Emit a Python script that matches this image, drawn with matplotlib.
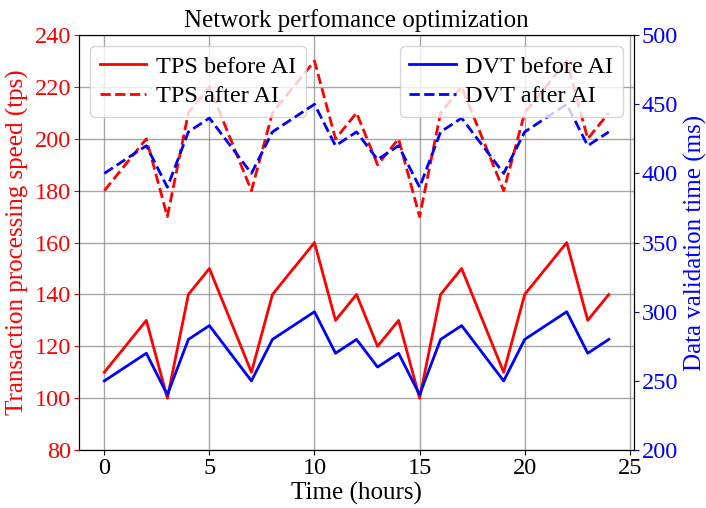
import matplotlib.pyplot as plt

plt.rcParams['font.family'] = ['Liberation Serif', 'DejaVu Serif']

hours = [0, 2, 3, 4, 5, 7, 8, 10, 11, 12, 13, 14, 15, 16, 17, 19, 20, 22, 23, 24]
tps_before = [110, 130, 100, 140, 150, 110, 140, 160, 130, 140, 120, 130, 100, 140, 150, 110, 140, 160, 130, 140]
tps_after = [180, 200, 170, 210, 220, 180, 210, 230, 200, 210, 190, 200, 170, 210, 220, 180, 210, 230, 200, 210]
dvt_before = [250, 270, 240, 280, 290, 250, 280, 300, 270, 280, 260, 270, 240, 280, 290, 250, 280, 300, 270, 280]
dvt_after = [400, 420, 390, 430, 440, 400, 430, 450, 420, 430, 410, 420, 390, 430, 440, 400, 430, 450, 420, 430]

fig, ax1 = plt.subplots(figsize=(7.06, 5.08), dpi=100)
fig.subplots_adjust(left=0.112, right=0.898, bottom=0.114, top=0.931)

# left axis: transaction speed
ax1.plot(hours, tps_before, color='red', lw=2, label='TPS before AI')
ax1.plot(hours, tps_after, color='red', lw=2, ls='--', label='TPS after AI')
ax1.set_ylim(80, 240)
ax1.set_xlim(-1.2, 25.2)
ax1.set_xticks([0, 5, 10, 15, 20, 25])
ax1.set_xlabel('Time (hours)', fontsize=18, labelpad=2)
ax1.set_ylabel('Transaction processing speed (tps)', color='red', fontsize=18, labelpad=4)
ax1.tick_params(axis='y', colors='red', labelsize=17.5, pad=2)
ax1.tick_params(axis='x', labelsize=17.5, pad=2)
ax1.grid(True, color='gray', lw=1, alpha=0.7)
ax1.legend(loc='upper left', fontsize=17.5, handlelength=1.9, handletextpad=0.4,
           labelspacing=0.3, borderaxespad=0.45)

# right axis: validation time
ax2 = ax1.twinx()
ax2.plot(hours, dvt_before, color='blue', lw=2, label='DVT before AI')
ax2.plot(hours, dvt_after, color='blue', lw=2, ls='--', label='DVT after AI')
ax2.set_ylim(200, 500)
ax2.set_ylabel('Data validation time (ms)', color='blue', fontsize=18, labelpad=4)
ax2.tick_params(axis='y', colors='blue', labelsize=17.5, pad=2)
ax2.legend(loc='upper right', fontsize=17.5, handlelength=1.9, handletextpad=0.4,
           labelspacing=0.3, borderaxespad=0.45)

for sp in ax2.spines.values():
    sp.set_color('black')

plt.title('Network perfomance optimization', fontsize=18, pad=6)
plt.savefig('out.png')
